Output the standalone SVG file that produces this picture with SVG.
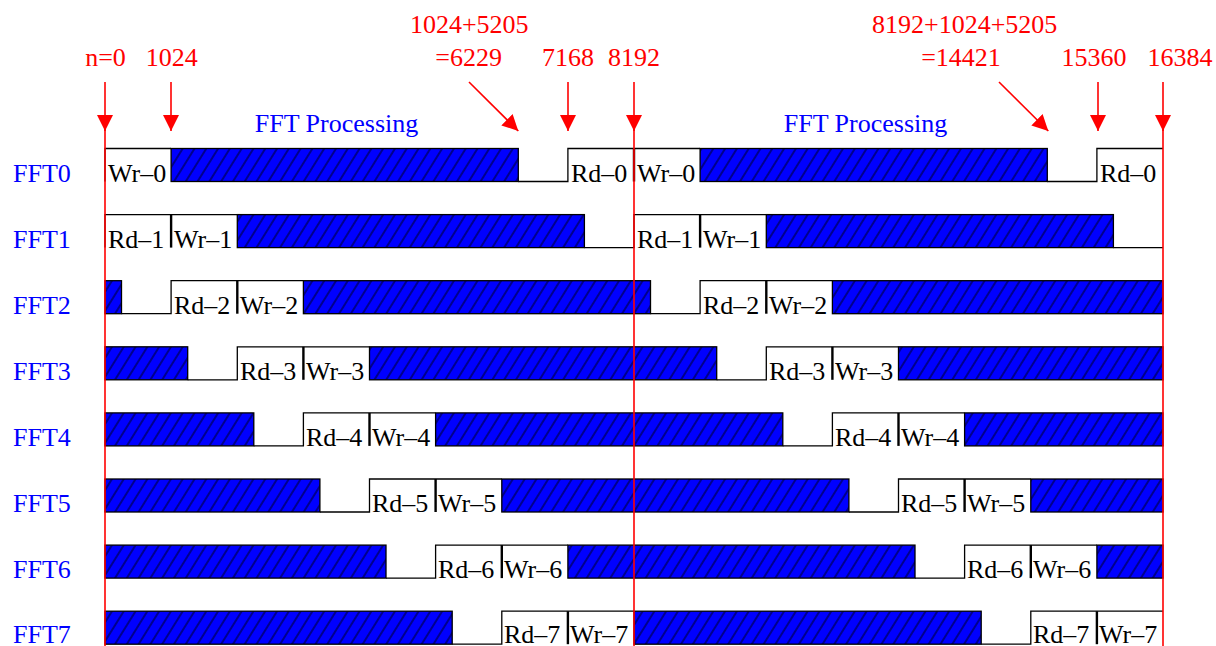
<svg xmlns="http://www.w3.org/2000/svg" width="1216" height="646" viewBox="0 0 1216 646">
<defs>
<pattern id="hatch" patternUnits="userSpaceOnUse" width="10" height="10" patternTransform="rotate(32)">
<rect width="10" height="10" fill="#0000ff"/>
<line x1="5" y1="-1" x2="5" y2="11" stroke="#000" stroke-width="0.9"/>
</pattern>
<marker id="ah" markerUnits="userSpaceOnUse" markerWidth="16" markerHeight="16" refX="16" refY="8" orient="auto">
<path d="M0,0 L16,8 L0,16 z" fill="#ff0000"/>
</marker>
<style>
text{font-family:"Liberation Serif","Times New Roman",serif;font-size:26px}
.lbl{fill:#0000ff}
.red{fill:#ff0000;text-anchor:middle}
.blk{fill:#000}
.h{fill:url(#hatch);stroke:#000;stroke-width:1.3}
.ol{fill:none;stroke:#000;stroke-width:1.3}
.sep{stroke:#000;stroke-width:2.4}
.arr{stroke:#ff0000;stroke-width:1.6;fill:none;marker-end:url(#ah)}
.vl{stroke:#ff0000;stroke-width:1.6}
</style>
</defs>
<rect width="1216" height="646" fill="#fff"/>

<g id="fft0" transform="translate(0,148.5)">
<rect class="h" x="171.1" y="0" width="347.2" height="33"/>
<rect class="h" x="700.1" y="0" width="347.2" height="33"/>
<path class="ol" d="M105,33V0H171.1 M518.3,33H567.9V0H700.1 M1047.3,33H1096.9V0H1163"/>
<line class="sep" x1="634" y1="0" x2="634" y2="33"/>
<text class="lbl" x="13" y="33">FFT0</text>
<text class="blk" x="108" y="33">Wr–0</text>
<text class="blk" x="571" y="33">Rd–0</text>
<text class="blk" x="637" y="33">Wr–0</text>
<text class="blk" x="1100" y="33">Rd–0</text>
</g>

<g id="fft1" transform="translate(0,214.6)">
<rect class="h" x="237.3" y="0" width="347.1" height="33"/>
<rect class="h" x="766.3" y="0" width="347.1" height="33"/>
<path class="ol" d="M105,33V0H237.3 M584.4,33H634V0H766.3 M1113.4,33H1163"/>
<line class="sep" x1="171.1" y1="0" x2="171.1" y2="33"/>
<line class="sep" x1="700.1" y1="0" x2="700.1" y2="33"/>
<text class="lbl" x="13" y="33">FFT1</text>
<text class="blk" x="108" y="33">Rd–1</text>
<text class="blk" x="174" y="33">Wr–1</text>
<text class="blk" x="637" y="33">Rd–1</text>
<text class="blk" x="703" y="33">Wr–1</text>
</g>

<g id="fft2" transform="translate(0,280.7)">
<rect class="h" x="105" y="0" width="16.5" height="33"/>
<rect class="h" x="303.4" y="0" width="347.1" height="33"/>
<rect class="h" x="832.4" y="0" width="330.6" height="33"/>
<path class="ol" d="M121.5,33H171.1V0H303.4 M650.5,33H700.1V0H832.4"/>
<line class="sep" x1="237.3" y1="0" x2="237.3" y2="33"/>
<line class="sep" x1="766.3" y1="0" x2="766.3" y2="33"/>
<text class="lbl" x="13" y="33">FFT2</text>
<text class="blk" x="174" y="33">Rd–2</text>
<text class="blk" x="240" y="33">Wr–2</text>
<text class="blk" x="703" y="33">Rd–2</text>
<text class="blk" x="769" y="33">Wr–2</text>
</g>

<g id="fft3" transform="translate(0,346.8)">
<rect class="h" x="105" y="0" width="82.7" height="33"/>
<rect class="h" x="369.5" y="0" width="347.2" height="33"/>
<rect class="h" x="898.5" y="0" width="264.5" height="33"/>
<path class="ol" d="M187.7,33H237.3V0H369.5 M716.7,33H766.3V0H898.5"/>
<line class="sep" x1="303.4" y1="0" x2="303.4" y2="33"/>
<line class="sep" x1="832.4" y1="0" x2="832.4" y2="33"/>
<text class="lbl" x="13" y="33">FFT3</text>
<text class="blk" x="240" y="33">Rd–3</text>
<text class="blk" x="306" y="33">Wr–3</text>
<text class="blk" x="769" y="33">Rd–3</text>
<text class="blk" x="835" y="33">Wr–3</text>
</g>

<g id="fft4" transform="translate(0,412.9)">
<rect class="h" x="105" y="0" width="148.8" height="33"/>
<rect class="h" x="435.6" y="0" width="347.2" height="33"/>
<rect class="h" x="964.6" y="0" width="198.4" height="33"/>
<path class="ol" d="M253.8,33H303.4V0H435.6 M782.8,33H832.4V0H964.6"/>
<line class="sep" x1="369.5" y1="0" x2="369.5" y2="33"/>
<line class="sep" x1="898.5" y1="0" x2="898.5" y2="33"/>
<text class="lbl" x="13" y="33">FFT4</text>
<text class="blk" x="306" y="33">Rd–4</text>
<text class="blk" x="372" y="33">Wr–4</text>
<text class="blk" x="835" y="33">Rd–4</text>
<text class="blk" x="901" y="33">Wr–4</text>
</g>

<g id="fft5" transform="translate(0,479)">
<rect class="h" x="105" y="0" width="214.9" height="33"/>
<rect class="h" x="501.8" y="0" width="347.1" height="33"/>
<rect class="h" x="1030.8" y="0" width="132.2" height="33"/>
<path class="ol" d="M319.9,33H369.5V0H501.8 M848.9,33H898.5V0H1030.8"/>
<line class="sep" x1="435.6" y1="0" x2="435.6" y2="33"/>
<line class="sep" x1="964.6" y1="0" x2="964.6" y2="33"/>
<text class="lbl" x="13" y="33">FFT5</text>
<text class="blk" x="372" y="33">Rd–5</text>
<text class="blk" x="438" y="33">Wr–5</text>
<text class="blk" x="901" y="33">Rd–5</text>
<text class="blk" x="967" y="33">Wr–5</text>
</g>

<g id="fft6" transform="translate(0,545.1)">
<rect class="h" x="105" y="0" width="281" height="33"/>
<rect class="h" x="567.9" y="0" width="347.1" height="33"/>
<rect class="h" x="1096.9" y="0" width="66.1" height="33"/>
<path class="ol" d="M386,33H435.6V0H567.9 M915,33H964.6V0H1096.9"/>
<line class="sep" x1="501.8" y1="0" x2="501.8" y2="33"/>
<line class="sep" x1="1030.8" y1="0" x2="1030.8" y2="33"/>
<text class="lbl" x="13" y="33">FFT6</text>
<text class="blk" x="438" y="33">Rd–6</text>
<text class="blk" x="504" y="33">Wr–6</text>
<text class="blk" x="967" y="33">Rd–6</text>
<text class="blk" x="1033" y="33">Wr–6</text>
</g>

<g id="fft7" transform="translate(0,611.2)">
<rect class="h" x="105" y="0" width="347.2" height="33"/>
<rect class="h" x="634" y="0" width="347.2" height="33"/>
<path class="ol" d="M452.2,33H501.8V0H634 M981.2,33H1030.8V0H1163"/>
<line class="sep" x1="567.9" y1="0" x2="567.9" y2="33"/>
<line class="sep" x1="1096.9" y1="0" x2="1096.9" y2="33"/>
<text class="lbl" x="13" y="32">FFT7</text>
<text class="blk" x="504" y="32">Rd–7</text>
<text class="blk" x="570" y="32">Wr–7</text>
<text class="blk" x="1033" y="32">Rd–7</text>
<text class="blk" x="1099" y="32">Wr–7</text>
</g>

<g id="titles">
<text class="lbl" x="336.5" y="132" text-anchor="middle">FFT Processing</text>
<text class="lbl" x="865.5" y="132" text-anchor="middle">FFT Processing</text>
</g>

<g id="connectors">
<line class="vl" x1="105" y1="126" x2="105" y2="646"/>
<line class="vl" x1="634" y1="126" x2="634" y2="646"/>
<line class="vl" x1="1163" y1="126" x2="1163" y2="646"/>
<path class="arr" d="M105,82V131"/>
<path class="arr" d="M171,82V131"/>
<path class="arr" d="M469,82L518.3,131"/>
<path class="arr" d="M568,82V131"/>
<path class="arr" d="M634,82V131"/>
<path class="arr" d="M999,82L1048.3,131"/>
<path class="arr" d="M1098,82V131"/>
<path class="arr" d="M1163,82V131"/>
</g>

<g id="marks">
<text class="red" x="105.5" y="66">n=0</text>
<text class="red" x="171.7" y="66">1024</text>
<text class="red" x="469.3" y="33">1024+5205</text>
<text class="red" x="468.7" y="66">=6229</text>
<text class="red" x="568" y="66">7168</text>
<text class="red" x="634" y="66">8192</text>
<text class="red" x="964.7" y="33">8192+1024+5205</text>
<text class="red" x="961" y="66">=14421</text>
<text class="red" x="1094" y="66">15360</text>
<text class="red" x="1180" y="66">16384</text>
</g>
</svg>
